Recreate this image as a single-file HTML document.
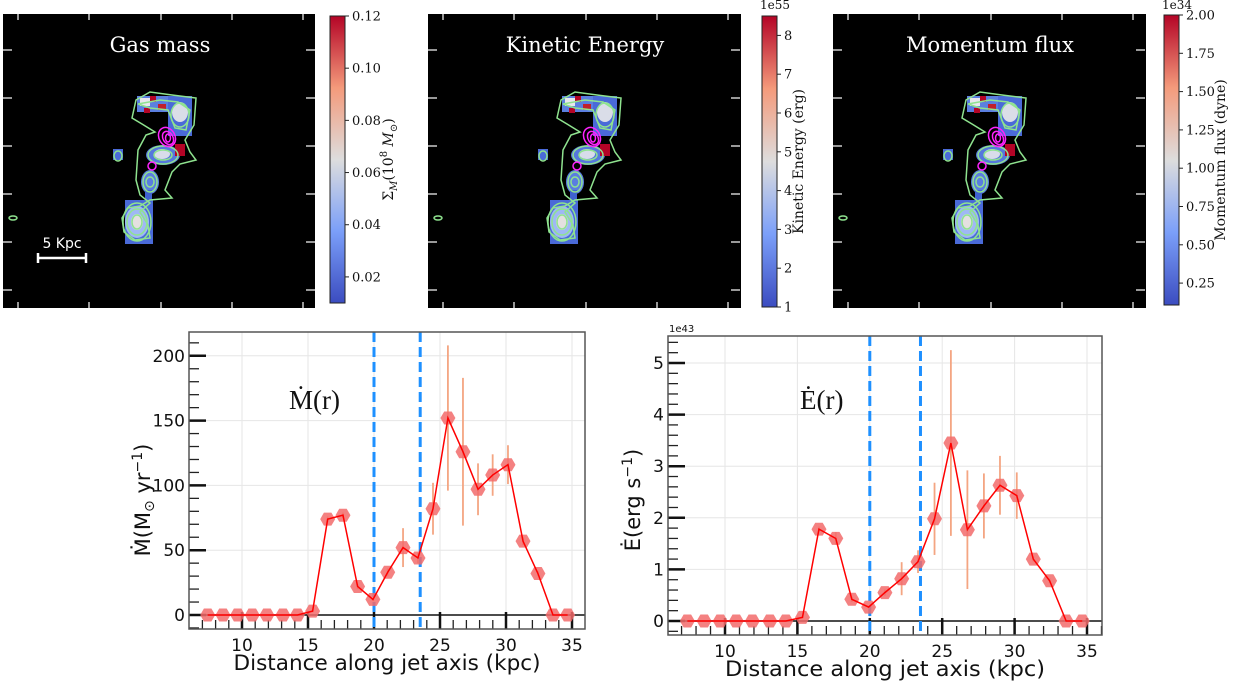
<!DOCTYPE html>
<html><head><meta charset="utf-8"><style>
body{margin:0;background:#fff}
svg{display:block}
.tk{font-family:"DejaVu Sans","Liberation Sans",sans-serif;fill:#111}
.cb{font-family:"DejaVu Serif","Liberation Serif",serif;fill:#111}
</style></head><body>
<svg id="fig" width="1235" height="688" viewBox="0 0 1235 688" xmlns="http://www.w3.org/2000/svg">
<defs>
<linearGradient id="cw" x1="0" y1="1" x2="0" y2="0">
<stop offset="0" stop-color="#3b4cc0"/><stop offset="0.25" stop-color="#7b9ff9"/><stop offset="0.5" stop-color="#dddddd"/><stop offset="0.75" stop-color="#f49a7b"/><stop offset="1" stop-color="#b40426"/>
</linearGradient>
<g id="blob">
<rect x="137" y="96" width="55" height="16" fill="#5b7fe0"/>
<rect x="140" y="98" width="10" height="8" fill="#e8e8ee"/>
<rect x="150" y="96" width="6" height="6" fill="#b40426"/>
<rect x="158" y="104" width="8" height="6" fill="#c0202a"/>
<rect x="144" y="108" width="6" height="5" fill="#b40426"/>
<rect x="168" y="96" width="24" height="40" fill="#4a6ad8"/>
<ellipse cx="180" cy="112" rx="8" ry="10" fill="#dadde8"/>
<ellipse cx="163" cy="155" rx="17" ry="10" fill="#5577dd"/>
<ellipse cx="162" cy="154" rx="8" ry="5" fill="#d8dcea"/>
<rect x="175" y="144" width="10" height="12" fill="#b40426"/>
<rect x="113" y="149" width="10" height="11" fill="#4a6ad8"/>
<ellipse cx="150" cy="182" rx="9" ry="12" fill="#5a7de0"/>
<rect x="145" y="190" width="7" height="14" fill="#4062d0"/>
<rect x="125" y="200" width="28" height="44" fill="#4a6ad8"/>
<ellipse cx="137" cy="222" rx="12" ry="16" fill="#9fb8f5"/>
<ellipse cx="137" cy="222" rx="6" ry="8" fill="#e4e0e0"/>
<g fill="none" stroke="#8fe38f" stroke-width="1.5">
<path d="M136,100 L150,92 L172,95 L196,98 L194,125 L185,140 L190,152 L196,160 L180,164 L172,172 L165,190 L172,198 L150,200 L140,206 L128,208 L122,218 L124,232 L135,240 L150,238 L148,225 L140,212 L150,203 L140,195 L136,180 L138,150 L146,135 L155,132 L142,124 L132,118 Z"/>
<path d="M138,104 L160,100 L178,102 L190,110 L186,130 L175,128 L168,110 L150,108 Z"/>
<ellipse cx="180" cy="115" rx="9" ry="12"/>
<ellipse cx="163" cy="155" rx="15" ry="9"/>
<ellipse cx="163" cy="155" rx="9" ry="5"/>
<ellipse cx="150" cy="182" rx="7" ry="10"/>
<ellipse cx="150" cy="182" rx="4" ry="5"/>
<ellipse cx="137" cy="222" rx="14" ry="19"/>
<ellipse cx="137" cy="222" rx="10" ry="13"/>
<ellipse cx="137" cy="222" rx="5" ry="7"/>
<ellipse cx="118" cy="156" rx="4" ry="5"/>
<ellipse cx="13" cy="218" rx="4" ry="2"/>
</g>
<g fill="none" stroke="#ff22ff" stroke-width="1.5">
<ellipse cx="167" cy="137" rx="8" ry="10" transform="rotate(-30 167 137)"/>
<ellipse cx="168" cy="138" rx="5" ry="7" transform="rotate(-30 168 138)"/>
<ellipse cx="168" cy="138" rx="2.5" ry="4"/>
<ellipse cx="152" cy="166" rx="4" ry="4"/>
</g>
<g stroke="#ccc" stroke-width="1.5">
<path d="M3,50h9M3,98h9M3,146h9M3,194h9M3,242h9M3,290h9"/>
<path d="M315,50h-9M315,98h-9M315,146h-9M315,194h-9M315,242h-9M315,290h-9"/>
<path d="M18,14v6M89,14v6M161,14v6M232,14v6M303,14v6"/>
<path d="M18,308v-6M89,308v-6M161,308v-6M232,308v-6M303,308v-6"/>
</g>
</g>
</defs>

<g>
<rect x="3" y="14" width="312" height="294" fill="#000"/>
<use href="#blob"/>
<text x="160" y="52" text-anchor="middle" fill="#fff" font-family="DejaVu Serif,Liberation Serif,serif" font-size="21">Gas mass</text>
<text x="62" y="248" text-anchor="middle" fill="#fff" font-family="DejaVu Sans,sans-serif" font-size="14">5 Kpc</text>
<path d="M38,258h48M38,253v10M86,253v10" stroke="#fff" stroke-width="2.5"/>
</g>
<g>
<rect x="428" y="14" width="313" height="294" fill="#000"/>
<use href="#blob" transform="translate(425,0)"/>
<text x="585" y="52" text-anchor="middle" fill="#fff" font-family="DejaVu Serif,Liberation Serif,serif" font-size="21">Kinetic Energy</text>
</g>
<g>
<rect x="833" y="14" width="313" height="294" fill="#000"/>
<use href="#blob" transform="translate(830,0)"/>
<text x="990" y="52" text-anchor="middle" fill="#fff" font-family="DejaVu Serif,Liberation Serif,serif" font-size="21">Momentum flux</text>
</g>
<g id="cbars"></g>
<g id="charts"></g>
</svg>
<script>
// ---- colorbar data ----
const cb1Ticks=[0.02,0.04,0.06,0.08,0.10,0.12];
const cb2Ticks=[1,2,3,4,5,6,7,8];
const cb3Ticks=[0.25,0.50,0.75,1.00,1.25,1.50,1.75,2.00];
// ---- chart data ----
const distKpc=[7.4,8.56,9.67,10.78,11.89,13.1,14.2,15.35,16.49,17.65,18.76,19.92,21.04,22.2,23.33,24.47,25.6,26.74,27.88,28.99,30.15,31.29,32.42,33.56,34.67];
const massRate=[0,0,0,0,0,0,0,3,74,77,22,12,33,52,44,82,152,126,97,108,116,57,32,0,0];
const massErr=[0,0,0,0,0,0,0,1,2,2,2,1,3,15,4,20,56,57,20,16,15,3,2,0,0];
const energyRate=[0,0,0,0,0,0,0,0.07,1.78,1.6,0.42,0.27,0.55,0.82,1.15,1.98,3.45,1.77,2.23,2.63,2.43,1.2,0.78,0,0];
const energyErr=[0,0,0,0,0,0,0,0.02,0.05,0.12,0.05,0.03,0.06,0.32,0.22,0.7,1.8,1.15,0.63,0.57,0.45,0.05,0.05,0,0];
const xTicks=[10,15,20,25,30,35];
const massTicks=[0,50,100,150,200];
const energyTicks=[0,1,2,3,4,5];
const jetBounds=[20,23.5];

const NS='http://www.w3.org/2000/svg';
function mk(parent,tag,attrs,txt){const e=document.createElementNS(NS,tag);for(const k in attrs)e.setAttribute(k,attrs[k]);if(txt!==undefined)e.textContent=txt;parent.appendChild(e);return e;}

function colorbar(x,y0,y1,vmin,vmax,ticks,fmt,label,lx,exp){
  const g=mk(document.getElementById('cbars'),'g',{});
  
  
  mk(g,'rect',{x:x,y:y0,width:15,height:y1-y0,fill:'url(#cw)',stroke:'#222','stroke-width':1});
  const sy=v=>y1-(v-vmin)/(vmax-vmin)*(y1-y0);
  ticks.forEach(t=>{const yy=sy(t);mk(g,'line',{x1:x+15,x2:x+19,y1:yy,y2:yy,stroke:'#222'});
    const tl=mk(g,'text',{x:x+22,y:yy+4.5,class:'cb',style:'font-size:13px'},fmt(t));
    
    });
  const lb=mk(g,'text',{x:lx,y:(y0+y1)/2,class:'cb',style:'font-size:14px','text-anchor':'middle',transform:`rotate(-90 ${lx} ${(y0+y1)/2})`},'');
  lb.innerHTML=label;
  
  
  if(exp){const e=mk(g,'text',{x:x+13,y:9,class:'cb',style:'font-size:12px','text-anchor':'middle'},exp);
    
    }
}
colorbar(330,16,303,0.01,0.12,cb1Ticks,v=>v.toFixed(2),'Σ<tspan font-size="10" dy="4" font-style="italic">M</tspan><tspan dy="-4">(10</tspan><tspan font-size="10" dy="-6">8</tspan><tspan dy="6"> </tspan><tspan font-style="italic">M</tspan><tspan font-size="10" dy="4">⊙</tspan><tspan dy="-4">)</tspan>',393,null);
colorbar(762,16,307,1,8.5,cb2Ticks,v=>String(v),'Kinetic Energy (erg)',803,'1e55');
colorbar(1164,15,305,0.107,2.0,cb3Ticks,v=>v.toFixed(2),'Momentum flux (dyne)',1225,'1e34');

function chart(o){
  const g=mk(document.getElementById('charts'),'g',{});
  
  
  const sx=v=>o.x0+(v-10)*o.kx, sy=v=>o.y0-v*o.ky;
  xTicks.forEach(t=>{mk(g,'line',{x1:sx(t),x2:sx(t),y1:o.top,y2:o.bot,stroke:'#e6e6e6'});});
  o.yt.forEach(t=>{mk(g,'line',{x1:o.l,x2:o.r,y1:sy(t),y2:sy(t),stroke:'#e6e6e6'});});
  for(let v=o.ymin;v<=o.ymax+1e-9;v+=o.ym){const yy=sy(v);if(yy<o.top||yy>o.bot)continue;mk(g,'line',{x1:o.l,x2:o.l+10,y1:yy,y2:yy,stroke:'#222','stroke-width':1.3});}
  for(let v=7;v<=36;v++){const xx=sx(v);if(xx<o.l||xx>o.r)continue;mk(g,'line',{x1:xx,x2:xx,y1:o.bot,y2:o.bot-9,stroke:'#222','stroke-width':1.3});}
  o.yt.forEach(t=>{const yy=sy(t);mk(g,'line',{x1:o.l,x2:o.l+17,y1:yy,y2:yy,stroke:'#111','stroke-width':2.5});
    const tl=mk(g,'text',{x:o.l-4,y:yy+6,class:'tk',style:'font-size:17px','text-anchor':'end'},String(t));
    
    });
  xTicks.forEach(t=>{const xx=sx(t);mk(g,'line',{x1:xx,x2:xx,y1:o.bot,y2:o.bot-17,stroke:'#111','stroke-width':2.5});
    const tl=mk(g,'text',{x:xx,y:o.bot+22,class:'tk',style:'font-size:17px','text-anchor':'middle'},String(t));
    
    });
  mk(g,'line',{x1:o.l,x2:o.r,y1:sy(0),y2:sy(0),stroke:'#111','stroke-width':1.5});
  jetBounds.forEach(b=>{const l=mk(g,'line',{x1:sx(b),x2:sx(b),y1:o.top,y2:o.bot,stroke:'#1e90ff','stroke-width':3,'stroke-dasharray':'10,5'});
    
    });
  o.vals.forEach((v,i)=>{if(!o.err[i])return;const eb=mk(g,'line',{x1:sx(distKpc[i]),x2:sx(distKpc[i]),y1:sy(v-o.err[i]),y2:sy(v+o.err[i]),stroke:'#f4a582','stroke-width':1.8});
    
    });
  o.vals.forEach((v,i)=>{const cx=sx(distKpc[i]),cy=sy(v),r=7.5;let pts=[];for(let k=0;k<6;k++){const a=Math.PI/3*k;pts.push((cx+r*Math.cos(a)).toFixed(1)+','+(cy+r*Math.sin(a)).toFixed(1));}
    const p=mk(g,'polygon',{points:pts.join(' '),fill:'#f26b6b','fill-opacity':0.85});
    
    });
  const ln=mk(g,'polyline',{points:o.vals.map((v,i)=>sx(distKpc[i])+','+sy(v)).join(' '),fill:'none',stroke:'#ff0000','stroke-width':1.5});
  
  
  mk(g,'rect',{x:o.l,y:o.top,width:o.r-o.l,height:o.bot-o.top,fill:'none',stroke:'#555','stroke-width':1.5});
  const xl=mk(g,'text',{x:o.xlx,y:o.bot+41,class:'tk',style:'font-size:21px','text-anchor':'middle',textLength:o.xlw,lengthAdjust:'spacingAndGlyphs'},'Distance along jet axis  (kpc)');
  
  
  const cy=o.ylc;
  const yl=mk(g,'text',{x:o.ylx,y:cy,class:'tk',style:'font-size:21px','text-anchor':'middle',transform:`rotate(-90 ${o.ylx} ${cy})`},'');
  yl.innerHTML=o.ylab;
  
  
  const an=mk(g,'text',{x:o.anx,y:409,'font-family':'Liberation Serif,serif',style:'font-size:27px',fill:'#111'},o.ann);
  
  
  if(o.exp){const e=mk(g,'text',{x:o.l+1,y:o.top-4,class:'tk',style:'font-size:10px'},o.exp);
    
    }
}
chart({name:'mass-rate-chart',l:189,r:585,top:332,bot:629,x0:242,kx:13.2,y0:615,ky:1.296,yt:massTicks,ymin:-10,ymax:220,ym:10,vals:massRate,err:massErr,ylab:'Ṁ(M<tspan style="font-size:14px" dy="4">⊙</tspan><tspan dy="-4"> yr</tspan><tspan style="font-size:14px" dy="-8">−1</tspan><tspan dy="8">)</tspan>',ylx:150,ylc:500,ann:'Ṁ(r)',anx:289,xlx:387,xlw:307});
chart({name:'energy-rate-chart',l:668,r:1102,top:336,bot:635,x0:725,kx:14.48,y0:621,ky:51.6,yt:energyTicks,ymin:-0.2,ymax:5.4,ym:0.2,vals:energyRate,err:energyErr,ylab:'Ė(erg s<tspan style="font-size:14px" dy="-8">−1</tspan><tspan dy="8">)</tspan>',ylx:640,ylc:500,ann:'Ė(r)',anx:800,exp:'1e43',xlx:885,xlw:320});
</script>
</body></html>
